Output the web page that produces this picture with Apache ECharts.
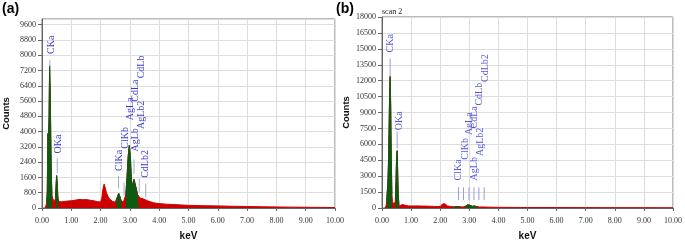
<!DOCTYPE html>
<html>
<head>
<meta charset="utf-8">
<script src="https://cdn.jsdelivr.net/npm/echarts@6/dist/echarts.min.js"></script>
<style>
  html, body { margin: 0; padding: 0; background: #fff; }
  #chart { width: 685px; height: 246px; }
</style>
</head>
<body>
<div id="chart"></div>
<script>
// energy axis shared by both spectra (keV)
var energies = [0.10,0.12,0.14,0.16,0.18,0.20,0.22,0.24,0.26,0.28,0.30,0.32,0.34,0.36,0.38,0.40,0.42,0.44,0.46,0.48,
  0.50,0.52,0.54,0.56,0.58,0.60,0.65,0.70,0.75,0.80,0.90,1.00,1.10,1.20,1.30,1.40,1.50,1.60,1.70,1.80,1.90,
  2.00,2.04,2.08,2.12,2.16,2.20,2.25,2.30,2.35,2.40,2.45,2.50,2.54,2.58,2.62,2.66,2.70,2.74,2.78,2.82,2.86,
  2.90,2.94,2.98,3.02,3.06,3.10,3.14,3.18,3.22,3.26,3.30,3.35,3.40,3.45,3.50,3.60,3.70,3.80,3.90,4.00,
  4.25,4.50,4.75,5.00,5.50,6.00,6.50,7.00,7.50,8.00,8.50,9.00,9.50,10.00];

// panel (a) counts
var countsA = [0,60,150,300,900,3900,3500,4800,7450,6200,3700,1600,700,520,500,420,330,300,500,1200,
  1700,1300,600,350,280,270,320,350,340,360,370,380,400,430,450,430,440,420,390,370,330,
  320,500,1000,1250,1050,800,620,480,400,350,320,300,380,620,760,600,380,300,320,380,700,
  1600,2700,3300,2600,1100,1050,1500,1550,1000,700,640,520,500,480,460,380,330,280,250,230,
  200,180,160,140,120,110,90,80,65,55,45,40,30,25];

// panel (b) counts
var countsB = [0,50,200,600,1500,2300,4000,7000,10500,12400,9500,4500,1300,600,650,550,300,250,700,2500,
  4600,5400,3300,1100,400,200,200,330,380,260,200,190,190,200,190,180,180,170,160,150,140,
  140,200,380,460,400,280,200,160,140,130,120,120,110,130,150,130,110,100,100,110,150,
  220,300,320,260,170,160,200,190,140,120,110,100,100,95,90,85,80,75,70,65,
  60,55,50,48,45,40,38,35,32,30,28,26,25,24];

// identified peak windows (green), keV
var roiA = [[0.16, 0.34], [0.46, 0.56], [2.54, 2.70], [2.86, 3.30]];
var roiB = [[0.16, 0.34], [0.46, 0.58], [2.50, 2.70], [2.86, 3.30]];

// peak labels
var labelNames = ['CKa', 'OKa', 'ClKa', 'ClKb', 'AgLa', 'CdLa', 'AgLb', 'AgLb2', 'CdLb', 'CdLb2'];
var labelXA = [0.31, 0.56, 2.63, 2.83, 3.00, 3.17, 3.20, 3.40, 3.38, 3.54];
var labelYA = [8070, 2860, 1940, 3110, 4600, 5570, 2960, 4140, 6790, 1580];
var labelXB = [0.30, 0.58, 2.64, 2.86, 3.00, 3.16, 3.19, 3.39, 3.35, 3.56];
var labelYB = [14660, 7330, 2600, 4550, 6870, 7500, 2600, 4900, 9650, 11880];

// marker lines [keV, from, to]
var linesA = [[0.27, 7400, 7760], [0.52, 1840, 2600], [2.61, 1020, 1680], [2.80, 660, 1330],
  [3.14, 1790, 2550], [3.32, 820, 1530], [3.54, 560, 1280]];
var linesB = [[0.28, 12400, 14100], [0.52, 5600, 7200], [2.63, 740, 1950], [2.80, 740, 1950],
  [2.99, 740, 1950], [3.16, 740, 1950], [3.33, 740, 1950], [3.51, 740, 1950]];

var RED = '#cc0000';
var GREEN = '#0e5a12';
var SERIF = '"Liberation Serif", "Times New Roman", serif';

function pairs(values) {
  return energies.map(function (e, i) { return [e, values[i]]; });
}

function inRoi(values, roi) {
  return energies.map(function (e, i) {
    var hit = roi.some(function (r) { return e >= r[0] - 1e-9 && e <= r[1] + 1e-9; });
    return [e, hit ? values[i] : null];
  });
}

function xAxisCfg(idx) {
  return {
    type: 'value', gridIndex: idx, min: 0, max: 10, interval: 1,
    name: 'keV', nameLocation: 'middle', nameGap: 23,
    nameTextStyle: { fontFamily: '"Liberation Sans", Arial, sans-serif', fontWeight: 'bold', fontSize: 10, color: '#111' },
    axisLine: { onZero: false, lineStyle: { color: '#666' } },
    axisTick: { show: true, length: 3, lineStyle: { color: '#666' } },
    axisLabel: { margin: 9, fontFamily: SERIF, fontSize: 8, color: '#333',
      formatter: function (v) { return v.toFixed(2); } },
    splitLine: { show: true, lineStyle: { color: '#dddddd' } }
  };
}

function yAxisCfg(idx, max, interval) {
  return {
    type: 'value', gridIndex: idx, min: 0, max: max, interval: interval,
    name: 'Counts', nameLocation: 'middle', nameGap: 31,
    nameTextStyle: { fontFamily: '"Liberation Sans", Arial, sans-serif', fontWeight: 'bold', fontSize: 9.5, color: '#111' },
    axisLine: { show: true, lineStyle: { color: '#666' } },
    axisTick: { show: true, length: 4, lineStyle: { color: '#666' } },
    axisLabel: { margin: 6, fontFamily: SERIF, fontSize: 8, color: '#333', showMaxLabel: max % interval === 0,
      formatter: function (v) { return String(v); } },
    splitLine: { show: true, lineStyle: { color: '#dddddd' } }
  };
}

function markers(idx, lines, lx, ly, lineColor, textColor) {
  var items = lx.map(function (x, i) { return [x, ly[i]]; });
  return [{
    type: 'custom', xAxisIndex: idx, yAxisIndex: idx, z: 5, silent: true,
    data: lines,
    renderItem: function (params, api) {
      var a = api.coord([api.value(0), api.value(1)]);
      var b = api.coord([api.value(0), api.value(2)]);
      return { type: 'line', shape: { x1: a[0], y1: a[1], x2: b[0], y2: b[1] },
        style: { stroke: lineColor, lineWidth: 1 } };
    }
  }, {
    type: 'custom', xAxisIndex: idx, yAxisIndex: idx, z: 6, silent: true,
    data: items,
    renderItem: function (params, api) {
      var p = api.coord([api.value(0), api.value(1)]);
      return { type: 'text', x: p[0], y: p[1], rotation: Math.PI / 2,
        style: { text: labelNames[params.dataIndex], fill: textColor,
          font: '10px ' + SERIF, align: 'left', verticalAlign: 'middle',
          textAlign: 'left', textVerticalAlign: 'middle' } };
    }
  }];
}

function spectrum(idx, values, roi) {
  return [{
    type: 'line', xAxisIndex: idx, yAxisIndex: idx, data: pairs(values), symbol: 'none', z: 2,
    lineStyle: { color: RED, width: 1 }, areaStyle: { color: RED, opacity: 1 }
  }, {
    type: 'line', xAxisIndex: idx, yAxisIndex: idx, data: inRoi(values, roi), symbol: 'none', z: 3,
    lineStyle: { color: GREEN, width: 1 }, areaStyle: { color: GREEN, opacity: 1 }
  }];
}

var myChart = echarts.init(document.getElementById('chart'));
myChart.setOption({
  animation: false,
  grid: [
    { left: 42, right: 350, top: 19, bottom: 33, show: true, borderColor: '#777', borderWidth: 1 },
    { left: 382, right: 9, top: 17, bottom: 35, show: true, borderColor: '#777', borderWidth: 1 }
  ],
  xAxis: [xAxisCfg(0), xAxisCfg(1)],
  yAxis: [yAxisCfg(0, 9900, 800), yAxisCfg(1, 18000, 1500)],
  graphic: [
    { type: 'text', left: 2, top: 2, style: { text: '(a)', font: 'bold 14px "Liberation Sans", Arial, sans-serif', fill: '#000' } },
    { type: 'text', left: 336, top: 2, style: { text: '(b)', font: 'bold 14px "Liberation Sans", Arial, sans-serif', fill: '#000' } },
    { type: 'text', left: 382, top: 8, style: { text: 'scan 2', font: '8px ' + SERIF, fill: '#222' } }
  ],
  series: [].concat(
    spectrum(0, countsA, roiA),
    spectrum(1, countsB, roiB),
    markers(0, linesA, labelXA, labelYA, '#a4a8d0', '#3b3bd0'),
    markers(1, linesB, labelXB, labelYB, '#9a9ae6', '#5555dd')
  )
});
window.addEventListener('resize', function () { myChart.resize(); });
</script>
</body>
</html>
